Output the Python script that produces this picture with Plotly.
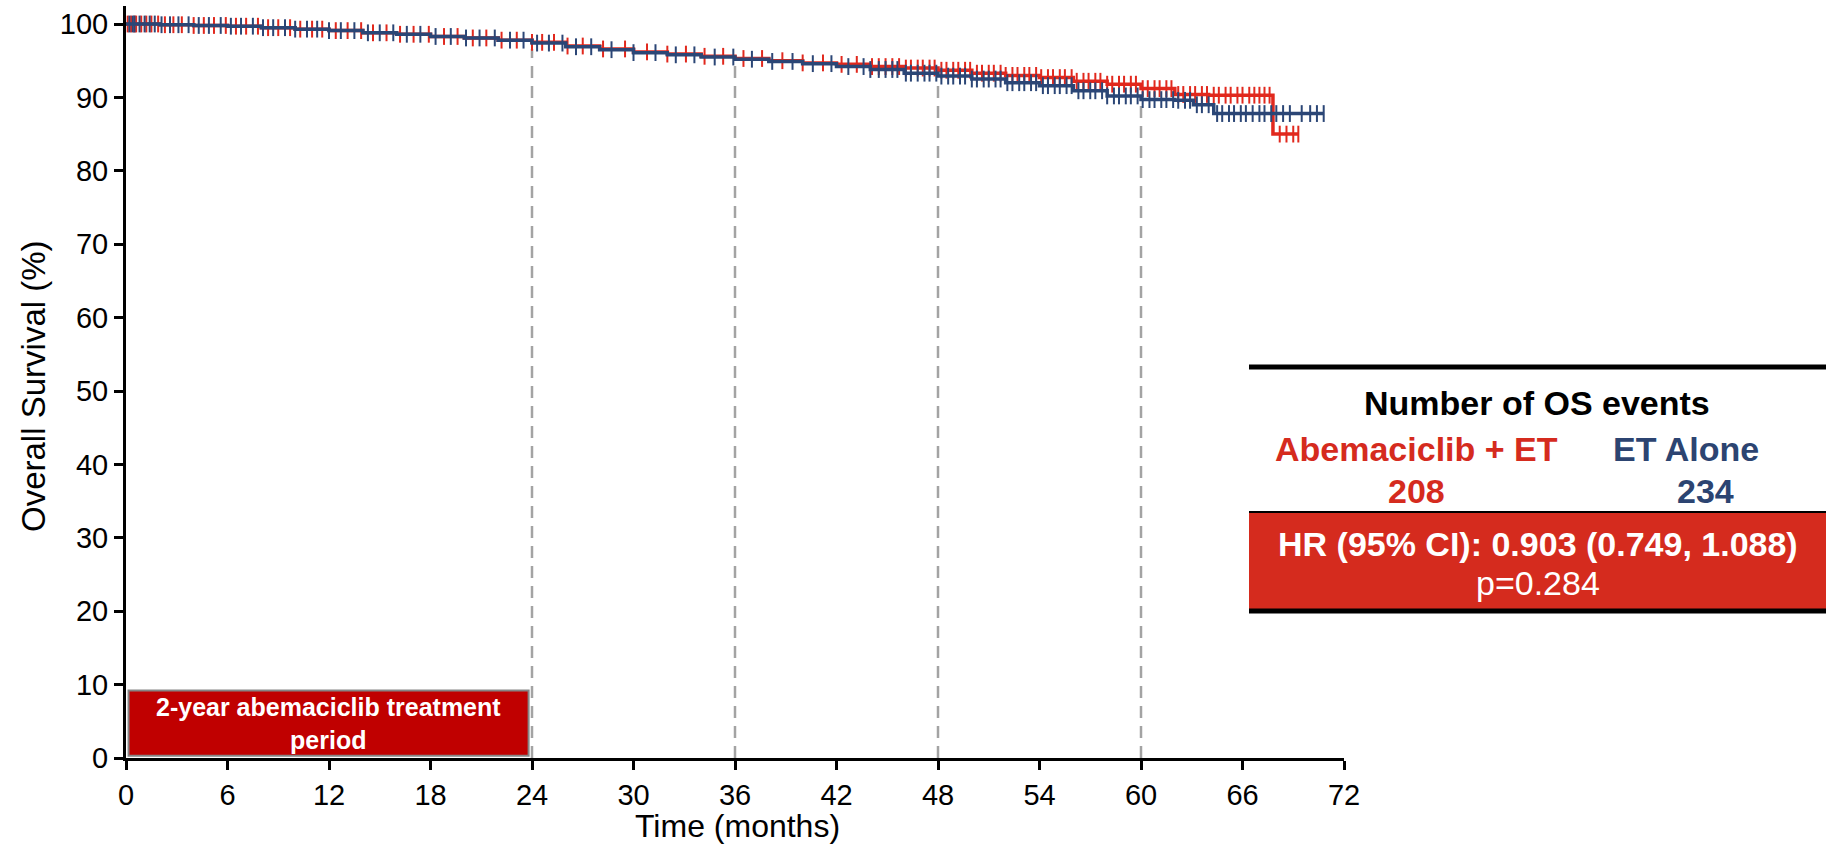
import plotly.graph_objects as go

# ---------------- data ----------------
abema_time = [0, 2, 4, 6, 8, 10, 12, 14, 16, 18, 20, 22, 24, 26, 28, 30, 32, 34, 36, 38, 40,
              42, 44, 46, 48, 50, 52, 54, 56, 58, 60, 62, 64, 67.8, 69.3]
abema_surv = [100, 99.9, 99.8, 99.7, 99.5, 99.3, 99.1, 98.8, 98.6, 98.3, 98.1, 97.8, 97.5, 97.0,
              96.6, 96.2, 95.9, 95.6, 95.3, 95.0, 94.7, 94.5, 94.2, 94.0, 93.7, 93.3, 93.0, 92.7,
              92.2, 91.8, 91.2, 90.4, 90.3, 85.0, 85.0]

et_time = [0, 2, 4, 6, 8, 10, 12, 14, 16, 18, 20, 22, 24, 26, 28, 30, 32, 34, 36, 38, 40,
           42, 44, 46, 48, 50, 52, 54, 56, 58, 60, 62, 63.1, 64.3, 70.8]
et_surv = [100, 99.9, 99.8, 99.7, 99.5, 99.3, 99.1, 98.8, 98.6, 98.3, 98.1, 97.8, 97.4, 96.9,
           96.5, 96.1, 95.8, 95.5, 95.2, 94.9, 94.6, 94.2, 93.8, 93.3, 92.9, 92.5, 92.0, 91.6,
           90.9, 90.2, 89.7, 89.6, 89.0, 87.8, 87.8]

abema_censor = [0.1, 0.3, 0.5, 0.6, 0.9, 1.2, 1.5, 1.9, 2.3, 2.8, 3.3, 4.0, 4.6, 5.2, 5.9, 6.5,
                7.1, 7.8, 8.4, 9.0, 9.7, 10.3, 11.0, 11.6, 12.4, 13.1, 13.9, 14.6, 15.4, 16.2,
                17.0, 17.9, 18.8, 19.6, 20.5, 21.3, 22.2, 23.1, 24.0, 24.6, 25.3, 26.1, 27.0,
                28.2, 29.5, 30.8, 32.0, 33.1, 34.2, 35.3, 36.5, 37.6, 38.8, 40.0, 41.2, 42.3,
                43.2, 44.1, 44.5, 44.9, 45.3, 45.7, 46.1, 46.4, 46.8, 47.1, 47.5, 47.8, 48.2,
                48.5, 48.9, 49.2, 49.6, 49.9, 50.3, 50.6, 51.0, 51.3, 51.7, 52.0, 52.4, 52.7,
                53.1, 53.4, 53.8, 54.1, 54.5, 54.8, 55.2, 55.5, 55.9, 56.2, 56.6, 56.9, 57.3,
                57.6, 58.0, 58.3, 58.7, 59.0, 59.4, 59.7, 60.1, 60.4, 60.8, 61.1, 61.5, 61.8,
                62.2, 62.5, 62.9, 63.2, 63.6, 63.9, 64.3, 64.6, 65.0, 65.3, 65.7, 66.0, 66.4,
                66.7, 67.0, 67.3, 67.6, 68.2, 68.6, 69.0, 69.3]
et_censor = [0.2, 0.4, 0.5, 0.8, 1.1, 1.4, 1.7, 2.1, 2.6, 3.1, 3.7, 4.3, 4.9, 5.6, 6.2, 6.8,
             7.5, 8.1, 8.7, 9.4, 10.0, 10.7, 11.3, 12.0, 12.7, 13.5, 14.3, 15.0, 15.8, 16.6,
             17.4, 18.3, 19.2, 20.1, 20.9, 21.8, 22.7, 23.5, 24.3, 25.0, 25.8, 26.6, 27.5,
             28.7, 30.0, 31.3, 32.5, 33.6, 34.8, 35.9, 37.0, 38.2, 39.4, 40.6, 41.7, 42.7,
             43.6, 44.0, 44.5, 44.9, 45.3, 45.6, 46.1, 46.4, 46.8, 47.2, 47.5, 47.9, 48.2,
             48.6, 48.9, 49.3, 49.6, 50.0, 50.3, 50.7, 51.0, 51.4, 51.7, 52.1, 52.4, 52.8,
             53.1, 53.5, 53.8, 54.2, 54.5, 54.9, 55.2, 55.6, 55.9, 56.3, 56.6, 57.0, 57.3,
             57.7, 58.0, 58.4, 58.7, 59.1, 59.4, 59.8, 60.1, 60.5, 60.8, 61.2, 61.5, 61.9,
             62.2, 62.6, 62.9, 63.3, 63.6, 64.0, 64.5, 64.8, 65.2, 65.5, 65.9, 66.2, 66.6,
             67.0, 67.3, 67.7, 68.0, 68.4, 68.8, 69.5, 70.0, 70.4, 70.8]

landmarks = [24, 36, 48, 60]
x_ticks = [0, 6, 12, 18, 24, 30, 36, 42, 48, 54, 60, 66, 72]
y_ticks = [0, 10, 20, 30, 40, 50, 60, 70, 80, 90, 100]

arm_names = ["Abemaciclib + ET", "ET Alone"]
os_events = ["208", "234"]
hr_text = "HR (95% CI): 0.903 (0.749, 1.088)"
p_text = "p=0.284"
box_text = "2-year abemaciclib treatment<br>period"

RED = "#e1281d"
BLUE = "#2b4676"
TXT_RED = "#d52b1e"
TXT_BLUE = "#2c4471"
FONT = "Liberation Sans, Arial, sans-serif"


def step_at(times, surv, t):
    val = surv[0]
    for ti, si in zip(times, surv):
        if ti <= t:
            val = si
    return val


fig = go.Figure()

for times, surv, cens, col, name in [(abema_time, abema_surv, abema_censor, RED, arm_names[0]),
                                      (et_time, et_surv, et_censor, BLUE, arm_names[1])]:
    fig.add_trace(go.Scatter(x=times, y=surv, mode="lines", line=dict(color=col, width=3.5, shape="hv"),
                             name=name, showlegend=False, hoverinfo="skip"))
    fig.add_trace(go.Scatter(x=cens, y=[step_at(times, surv, c) for c in cens], mode="markers",
                             marker=dict(symbol="line-ns", size=12, line=dict(color=col, width=2)),
                             showlegend=False, hoverinfo="skip"))

# landmark dashed lines
for lm in landmarks:
    top = min(step_at(abema_time, abema_surv, lm), step_at(et_time, et_surv, lm)) - 0.8
    fig.add_shape(type="line", x0=lm, x1=lm, y0=0, y1=top, xref="x", yref="y",
                  line=dict(color="#a3a3a3", width=2.5, dash="12px,8px"), layer="below")

# treatment period box
fig.add_shape(type="rect", x0=0.15, x1=23.8, y0=0.3, y1=9.2, xref="x", yref="y",
              fillcolor="#c00000", line=dict(color="#858585", width=2))
fig.add_annotation(x=11.95, y=4.75, xref="x", yref="y", text="<b>" + box_text + "</b>",
                   showarrow=False, xanchor="center", yanchor="middle",
                   font=dict(family=FONT, size=25, color="white"))

# pixel -> paper helpers
L, R, T, B = 126, 1344, 6, 758


def px(x):
    return (x - L) / (R - L)


def py(y):
    return (B - y) / (B - T)


# table
fig.add_shape(type="rect", xref="paper", yref="paper", x0=px(1249), x1=px(1826), y0=py(611), y1=py(512),
              fillcolor=TXT_RED, line=dict(width=0))
fig.add_shape(type="line", xref="paper", yref="paper", x0=px(1249), x1=px(1826), y0=py(367), y1=py(367),
              line=dict(color="black", width=5))
fig.add_shape(type="line", xref="paper", yref="paper", x0=px(1249), x1=px(1826), y0=py(512), y1=py(512),
              line=dict(color="black", width=2))
fig.add_shape(type="line", xref="paper", yref="paper", x0=px(1249), x1=px(1826), y0=py(611), y1=py(611),
              line=dict(color="black", width=5))


def ann(text, x, y, color, size=34, bold=True):
    fig.add_annotation(xref="paper", yref="paper", x=px(x), y=py(y), text=("<b>%s</b>" % text) if bold else text,
                       showarrow=False, xanchor="center", yanchor="middle",
                       font=dict(family=FONT, size=size, color=color))


ann("Number of OS events", 1537, 403, "black")
ann(arm_names[0], 1416, 449, TXT_RED)
ann(arm_names[1], 1686, 449, TXT_BLUE)
ann(os_events[0], 1416, 491, TXT_RED)
ann(os_events[1], 1705, 491, TXT_BLUE)
ann(hr_text, 1538, 544, "white")
ann(p_text, 1538, 583, "white", bold=False)

# axis titles
fig.add_annotation(xref="paper", yref="paper", x=px(34), y=py(386), text="Overall Survival (%)",
                   textangle=-90, showarrow=False, xanchor="center", yanchor="middle",
                   font=dict(family=FONT, size=33, color="black"))
fig.add_annotation(xref="paper", yref="paper", x=px(737), y=py(826), text="Time (months)",
                   showarrow=False, xanchor="center", yanchor="middle", borderpad=0,
                   font=dict(family=FONT, size=32, color="black"))

fig.update_xaxes(range=[0, 72], tickvals=x_ticks, ticktext=[str(v) for v in x_ticks],
                 showline=True, linecolor="black", linewidth=3, ticks="outside", ticklen=9,
                 tickwidth=2.5, tickcolor="black", showgrid=False, zeroline=False,
                 tickfont=dict(family=FONT, size=29, color="black"))
fig.update_yaxes(range=[0, (B - T) / 7.34], tickvals=y_ticks, ticktext=[str(v) for v in y_ticks],
                 showline=True, linecolor="black", linewidth=3, ticks="outside", ticklen=9,
                 tickwidth=2.5, tickcolor="black", showgrid=False, zeroline=False,
                 tickfont=dict(family=FONT, size=29, color="black"))

fig.update_layout(width=1830, height=846, margin=dict(l=L, r=1830 - R, t=T, b=846 - B),
                  plot_bgcolor="white", paper_bgcolor="white", showlegend=False,
                  font=dict(family=FONT))

fig.write_html("out.html")
